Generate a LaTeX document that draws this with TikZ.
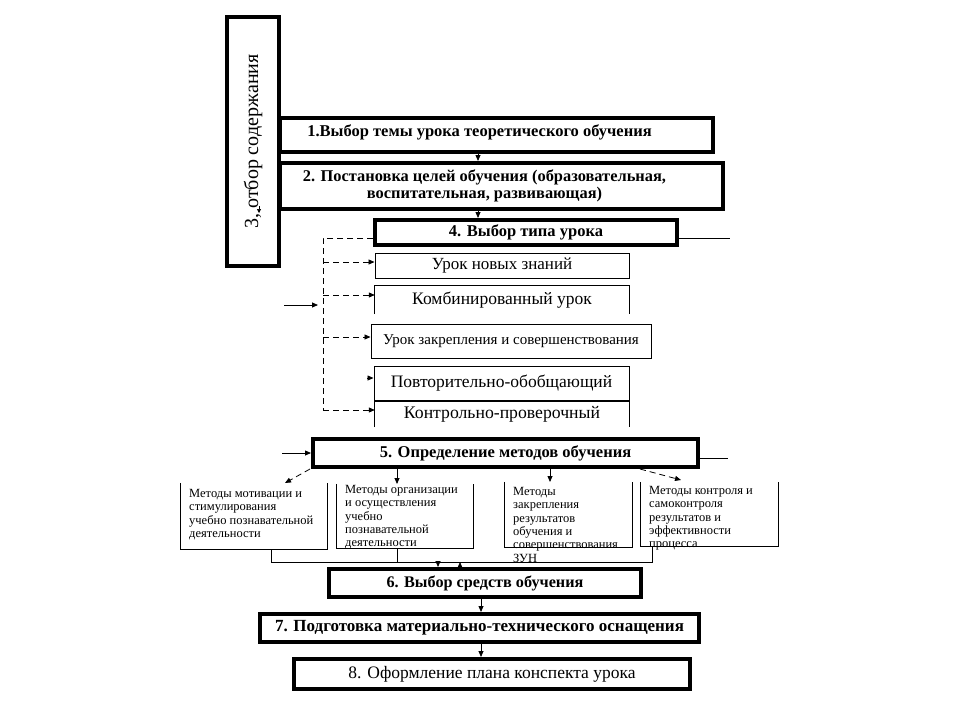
\documentclass[tikz,border=0pt]{standalone}
\usepackage{fontspec}
\setmainfont{Liberation Serif}
\usetikzlibrary{arrows.meta}
\begin{document}
\begin{tikzpicture}[x=1pt,y=-1pt,
  thickbox/.style={draw, line width=4pt, inner sep=0pt, font=\bfseries\fontsize{16.5}{18}\selectfont},
  thinbox/.style={draw, line width=1pt, inner sep=0pt, font=\fontsize{17.5}{20}\selectfont},
  plainbox/.style={inner sep=0pt, font=\fontsize{17.5}{20}\selectfont},
  txt/.style={inner sep=0pt, align=center, font=\bfseries\fontsize{16.4}{17.5}\selectfont},
  methtext/.style={anchor=north west, align=left, inner sep=0pt, font=\fontsize{12.5}{13.4}\selectfont},
  arr/.style={-{Triangle[length=6pt,width=5pt]}, line width=0.8pt},
  darr/.style={dash pattern=on 6pt off 4pt, -{Triangle[length=6pt,width=5pt]}, line width=0.8pt},
  dline/.style={dash pattern=on 6pt off 4pt, line width=0.8pt},
  sline/.style={line width=0.8pt},
  open/.style={line width=1pt}
]
\fill[white] (0,0) rectangle (960,720);
\useasboundingbox (0,0) rectangle (960,720);

% vertical box 3
\node[thickbox, rotate=90, minimum width=249pt, minimum height=52pt, font=\normalfont\fontsize{20}{24}\selectfont] (b3) at (253,141.5) {3, отбор содержания};
\coordinate (v1) at (259,206);
\coordinate (v2) at (259,213);
\draw[-{Triangle[length=4pt,width=4pt]}, line width=0.6pt] (v1) -- (v2);

% box 1 and 2
\node[thickbox, minimum width=433pt, minimum height=34pt] (b1) at (496.5,135) {};
\node[txt, font=\bfseries\fontsize{16.5}{18}\selectfont] (b1t) at (479.5,132.5) {1.Выбор темы урока теоретического обучения};
\node[thickbox, minimum width=443pt, minimum height=46pt] (b2) at (501.5,186) {};
\node[txt] (b2t) at (484.5,186) {2. Постановка целей обучения (образовательная,\\воспитательная, развивающая)};

% box 4
\node[thickbox, minimum width=302pt, minimum height=25pt] (b4) at (526,232.5) {4. Выбор типа урока};

% types
\node[thinbox, minimum width=254pt, minimum height=25pt, font=\fontsize{17}{19}\selectfont] (t1) at (502,265.5) {Урок новых знаний};
\node[plainbox, minimum width=254pt, minimum height=28pt] (t2) at (502,300) {Комбинированный урок};
\draw[open] (t2.south west) -- (t2.north west) -- (t2.north east) -- (t2.south east);
\node[thinbox, minimum width=280pt, minimum height=34pt, font=\fontsize{15}{17}\selectfont] (t3) at (511,341) {Урок закрепления и совершенствования};
\node[thinbox, minimum width=255pt, minimum height=34pt] (t4) at (501.5,383) {Повторительно-обобщающий};
\node[plainbox, minimum width=254pt, minimum height=25pt, font=\fontsize{17.7}{20}\selectfont] (t5) at (502,414.5) {Контрольно-проверочный};
\draw[open] (t5.south west) -- (t5.north west) -- (t5.north east) -- (t5.south east);

% box 5
\node[thickbox, minimum width=385pt, minimum height=28pt] (b5) at (505.5,453) {5. Определение методов обучения};

% method boxes
\node[inner sep=0pt, minimum width=146pt, minimum height=66pt] (m1) at (254,516) {};
\node[inner sep=0pt, minimum width=136pt, minimum height=64pt] (m2) at (405,516) {};
\node[inner sep=0pt, minimum width=127pt, minimum height=65pt] (m3) at (568.5,514.5) {};
\node[inner sep=0pt, minimum width=137pt, minimum height=64pt] (m4) at (709.5,514) {};
\foreach \m in {m1,m2,m3,m4}{
  \draw[open] (\m.north west) -- (\m.south west) -- (\m.south east) -- (\m.north east);
}
\node[methtext] (m1t) at (189,489) {Методы мотивации и\\стимулирования\\учебно познавательной\\деятельности};
\node[methtext] (m2t) at (345,485) {Методы организации\\и осуществления\\учебно\\познавательной\\деятельности};
\node[methtext] (m3t) at (513,487) {Методы\\закрепления\\результатов\\обучения и\\совершенствования\\ЗУН};
\node[methtext] (m4t) at (649,486) {Методы контроля и\\самоконтроля\\результатов и\\эффективности\\процесса};

% boxes 6-8
\node[thickbox, minimum width=312pt, minimum height=28pt, font=\bfseries\fontsize{16.2}{18}\selectfont] (b6) at (485,583) {6. Выбор средств обучения};
\node[thickbox, minimum width=439pt, minimum height=28pt, font=\bfseries\fontsize{17}{19}\selectfont] (b7) at (479.5,628) {7. Подготовка материально-технического оснащения};
\node[thickbox, minimum width=396pt, minimum height=30pt, font=\normalfont\fontsize{17.5}{20}\selectfont] (b8) at (492,674) {8. Оформление плана конспекта урока};

% main arrows
\draw[arr] ([xshift=-18.5pt]b1.south) -- ([xshift=-18.5pt]b1.south |- b2.north);
\draw[arr] ([xshift=-23.5pt]b2.south) -- ([xshift=-23.5pt]b2.south |- b4.north);

% right line from box 4
\coordinate (r4) at (730,238);
\draw[sline] (r4 -| b4.east) -- (r4);

% dashed bracket
\coordinate (dv) at (323,238);
\coordinate (dvb) at (323,410);
\coordinate (d1) at (323,262);
\coordinate (d2) at (323,295);
\coordinate (d3) at (323,337);
\draw[dline] (dv -| b4.west) -- (dv) -- (dvb);
\draw[darr] (dvb) -- (dvb -| t5.west);
\draw[darr] (d1) -- (d1 -| t1.west);
\draw[darr] (d2) -- (d2 -| t2.west);
\draw[darr] (d3) -- (d3 -| t3.west);
\coordinate (a4) at (367,378);
\draw[arr] (a4) -- (a4 -| t4.west);

% left arrows
\coordinate (la) at (284,305);
\coordinate (lb) at (318,305);
\draw[arr] (la) -- (lb);
\coordinate (l5) at (282,453);
\draw[arr] (l5) -- (b5.west);

% right line from box 5
\coordinate (r5) at (728,458);
\draw[sline] (r5 -| b5.east) -- (r5);

% arrows to methods
\coordinate (q1s) at (310,469);
\coordinate (q1) at (285,483);
\draw[darr] (q1s) -- (q1);
\coordinate (k2) at (397,484);
\draw[arr] (k2 |- b5.south) -- (k2);
\coordinate (k3) at (550,482);
\draw[arr] (k3 |- b5.south) -- (k3);
\coordinate (q4s) at (640,469);
\coordinate (q4) at (681,480);
\draw[darr] (q4s) -- (q4);

% collector
\coordinate (h1) at (271,562);
\coordinate (h2) at (397,562);
\coordinate (h3) at (652,562);
\draw[sline] (h1 |- m1.south) -- (h1) -- (h3) -- (h3 |- m4.south);
\draw[sline] (h2 |- m2.south) -- (h2);
\coordinate (g1) at (438,562);
\coordinate (g2) at (460,562);
\draw[arr] (g1) -- (g1 |- b6.north);
\draw[arr] (g2 |- b6.north) -- (g2);

% lower arrows
\coordinate (e) at (481,0);
\draw[arr] (e |- b6.south) -- (e |- b7.north);
\draw[arr] (e |- b7.south) -- (e |- b8.north);
\end{tikzpicture}
\end{document}
